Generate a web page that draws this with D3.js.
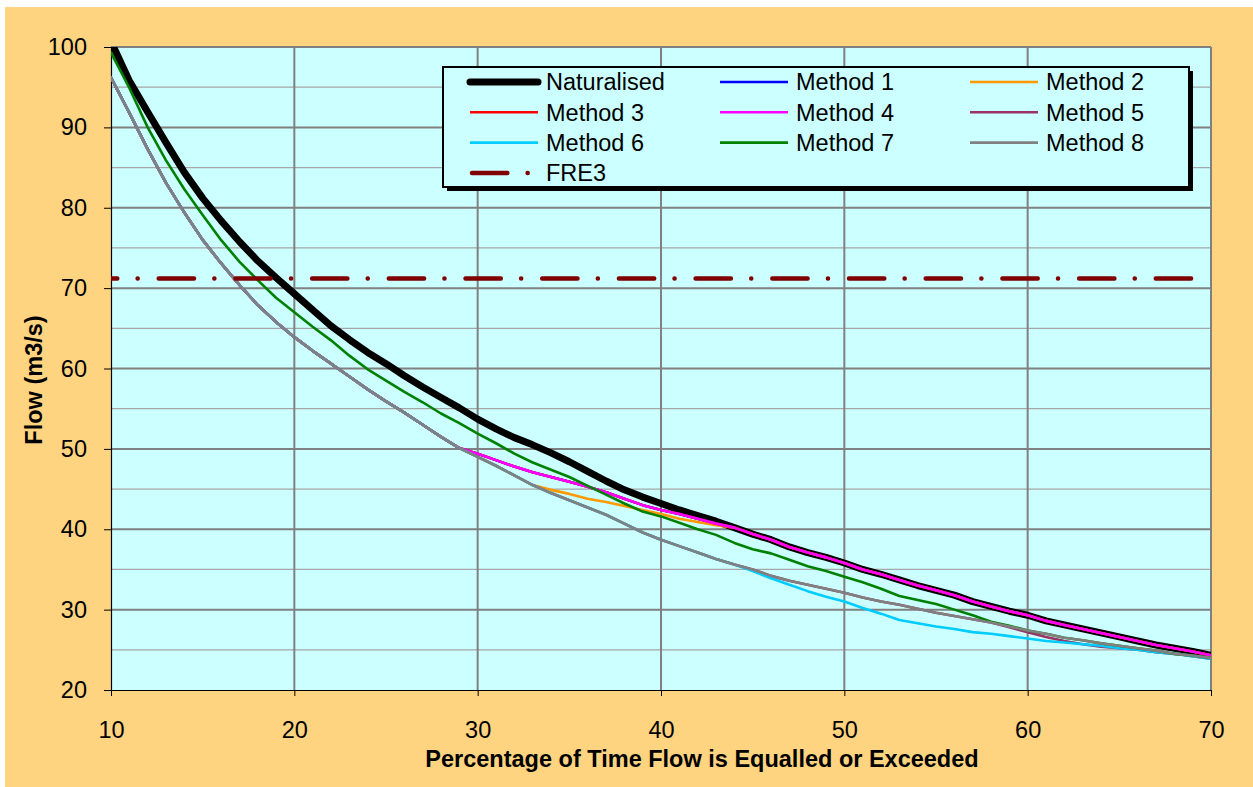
<html>
<script src="https://d3js.org/d3.v7.min.js"></script>
<head>
<style>
  body { margin: 0; background: #ffffff; }
  text { font-family: "Liberation Sans", Arial, sans-serif; fill: #000; }
</style>
</head>
<body>
<svg width="1253" height="787"></svg>
<script>
// percentage of time flow is equalled or exceeded
const pct = [10, 11, 12, 13, 14, 15, 16, 17, 18, 19,
             20, 21, 22, 23, 24, 25, 26, 27, 28, 29,
             30, 31, 32, 33, 34, 35, 36, 37, 38, 39,
             40, 41, 42, 43, 44, 45, 46, 47, 48, 49,
             50, 51, 52, 53, 54, 55, 56, 57, 58, 59,
             60, 61, 62, 63, 64, 65, 66, 67, 68, 69,
             70];

const naturalised = [100.7, 95.8, 91.9, 88.1, 84.4, 81.2, 78.4, 75.8, 73.4, 71.3,
                     69.3, 67.3, 65.3, 63.6, 62.0, 60.6, 59.1, 57.7, 56.4, 55.1,
                     53.7, 52.5, 51.4, 50.5, 49.5, 48.4, 47.2, 46.0, 44.9, 44.0,
                     43.2, 42.4, 41.7, 41.0, 40.2, 39.4, 38.7, 37.8, 37.1, 36.5,
                     35.8, 35.0, 34.4, 33.7, 33.0, 32.4, 31.8, 31.0, 30.4, 29.8,
                     29.3, 28.6, 28.1, 27.6, 27.1, 26.6, 26.1, 25.6, 25.2, 24.8,
                     24.3];

const method1 = [96.2, 91.8, 87.3, 83.1, 79.4, 76.0, 73.1, 70.4, 67.9, 65.8,
                 63.9, 62.2, 60.6, 59.0, 57.4, 55.9, 54.5, 53.0, 51.5, 50.1,
                 49.4, 48.6, 47.8, 47.1, 46.5, 45.9, 45.3, 44.6, 43.8, 43.0,
                 42.4, 41.9, 41.3, 40.7, 40.2, 39.4, 38.7, 37.8, 37.1, 36.5,
                 35.8, 35.0, 34.4, 33.7, 33.0, 32.4, 31.8, 31.0, 30.4, 29.8,
                 29.3, 28.6, 28.1, 27.6, 27.1, 26.6, 26.1, 25.6, 25.2, 24.8,
                 24.3];

const method2 = [96.2, 91.8, 87.3, 83.1, 79.4, 76.0, 73.1, 70.4, 67.9, 65.8,
                 63.9, 62.2, 60.6, 59.0, 57.4, 55.9, 54.5, 53.0, 51.5, 50.1,
                 49.0, 47.9, 46.7, 45.5, 44.9, 44.4, 43.8, 43.4, 42.9, 42.4,
                 41.9, 41.3, 40.9, 40.5, 40.2, 39.4, 38.7, 37.8, 37.1, 36.5,
                 35.8, 35.0, 34.4, 33.7, 33.0, 32.4, 31.8, 31.0, 30.4, 29.8,
                 29.3, 28.6, 28.1, 27.6, 27.1, 26.6, 26.1, 25.6, 25.2, 24.8,
                 24.3];

const method3 = [96.2, 91.8, 87.3, 83.1, 79.4, 76.0, 73.1, 70.4, 67.9, 65.8,
                 63.9, 62.2, 60.6, 59.0, 57.4, 55.9, 54.5, 53.0, 51.5, 50.1,
                 49.4, 48.6, 47.8, 47.1, 46.5, 45.9, 45.3, 44.6, 43.8, 43.0,
                 42.4, 41.9, 41.3, 40.7, 40.2, 39.4, 38.7, 37.8, 37.1, 36.5,
                 35.8, 35.0, 34.4, 33.7, 33.0, 32.4, 31.8, 31.0, 30.4, 29.8,
                 29.3, 28.6, 28.1, 27.6, 27.1, 26.6, 26.1, 25.6, 25.2, 24.8,
                 24.3];

const method4 = [96.2, 91.8, 87.3, 83.1, 79.4, 76.0, 73.1, 70.4, 67.9, 65.8,
                 63.9, 62.2, 60.6, 59.0, 57.4, 55.9, 54.5, 53.0, 51.5, 50.1,
                 49.4, 48.6, 47.8, 47.1, 46.5, 45.9, 45.3, 44.6, 43.8, 43.0,
                 42.4, 41.9, 41.3, 40.7, 40.2, 39.4, 38.7, 37.8, 37.1, 36.5,
                 35.8, 35.0, 34.4, 33.7, 33.0, 32.4, 31.8, 31.0, 30.4, 29.8,
                 29.3, 28.6, 28.1, 27.6, 27.1, 26.6, 26.1, 25.6, 25.2, 24.8,
                 24.3];

const method5 = [96.2, 91.8, 87.3, 83.1, 79.4, 76.0, 73.1, 70.4, 67.9, 65.8,
                 63.9, 62.2, 60.6, 59.0, 57.4, 55.9, 54.5, 53.0, 51.5, 50.1,
                 49.0, 47.9, 46.7, 45.5, 44.5, 43.6, 42.7, 41.8, 40.7, 39.6,
                 38.7, 37.9, 37.1, 36.3, 35.6, 35.0, 34.2, 33.6, 33.1, 32.6,
                 32.1, 31.5, 31.0, 30.6, 30.1, 29.6, 29.2, 28.8, 28.4, 27.8,
                 27.2, 26.6, 26.1, 25.7, 25.4, 25.2, 25.0, 24.7, 24.5, 24.2,
                 23.9];

const method6 = [96.2, 91.8, 87.3, 83.1, 79.4, 76.0, 73.1, 70.4, 67.9, 65.8,
                 63.9, 62.2, 60.6, 59.0, 57.4, 55.9, 54.5, 53.0, 51.5, 50.1,
                 49.0, 47.9, 46.7, 45.5, 44.5, 43.6, 42.7, 41.8, 40.7, 39.6,
                 38.7, 37.9, 37.1, 36.3, 35.6, 34.8, 33.9, 33.1, 32.3, 31.6,
                 31.0, 30.2, 29.5, 28.7, 28.3, 27.9, 27.6, 27.2, 27.0, 26.7,
                 26.4, 26.1, 25.9, 25.7, 25.5, 25.2, 25.0, 24.7, 24.5, 24.2,
                 23.9];

const method7 = [99.3, 94.9, 90.0, 85.9, 82.3, 79.1, 76.0, 73.3, 71.0, 68.8,
                 67.0, 65.2, 63.5, 61.6, 59.9, 58.5, 57.1, 55.8, 54.4, 53.2,
                 51.9, 50.7, 49.4, 48.3, 47.4, 46.5, 45.4, 44.3, 43.2, 42.2,
                 41.6, 40.8, 40.0, 39.3, 38.3, 37.5, 37.0, 36.2, 35.4, 34.8,
                 34.1, 33.4, 32.6, 31.7, 31.2, 30.7, 30.0, 29.3, 28.5, 28.0,
                 27.4, 27.0, 26.5, 26.2, 25.8, 25.5, 25.2, 24.9, 24.5, 24.3,
                 24.0];

const method8 = [96.2, 91.8, 87.3, 83.1, 79.4, 76.0, 73.1, 70.4, 67.9, 65.8,
                 63.9, 62.2, 60.6, 59.0, 57.4, 55.9, 54.5, 53.0, 51.5, 50.1,
                 49.0, 47.9, 46.7, 45.5, 44.5, 43.6, 42.7, 41.8, 40.7, 39.6,
                 38.7, 37.9, 37.1, 36.3, 35.6, 35.0, 34.2, 33.6, 33.1, 32.6,
                 32.1, 31.5, 31.0, 30.6, 30.1, 29.6, 29.2, 28.8, 28.4, 27.9,
                 27.4, 27.0, 26.5, 26.2, 25.8, 25.5, 25.2, 24.9, 24.5, 24.3,
                 24.0];

const fre3 = 71.2;

const seriesNames = ["Naturalised", "Method 1", "Method 2", "Method 3", "Method 4",
                     "Method 5", "Method 6", "Method 7", "Method 8", "FRE3"];
const seriesColors = ["#000000", "#0000FF", "#FF9900", "#FF0000", "#FF00FF",
                      "#993366", "#00CCFF", "#008000", "#808080", "#800000"];

const xTicks = [10, 20, 30, 40, 50, 60, 70];
const yTicks = [20, 30, 40, 50, 60, 70, 80, 90, 100];
const yMinor = [25, 35, 45, 55, 65, 75, 85, 95];

const svg = d3.select("svg");

const plotLeft = 111, plotRight = 1211, plotTop = 47, plotBottom = 690;

const xs = d3.scaleLinear().domain([10, 70]).range([plotLeft, plotRight]);
const ys = d3.scaleLinear().domain([20, 100]).range([plotBottom, plotTop]);

// chart area
svg.append("rect")
    .attr("x", 5).attr("y", 7)
    .attr("width", 1248).attr("height", 780)
    .style("fill", "#FFD480");

// plot area
svg.append("rect")
    .attr("x", plotLeft).attr("y", plotTop)
    .attr("width", plotRight - plotLeft).attr("height", plotBottom - plotTop)
    .style("fill", "#CCFFFF");

// gridlines
svg.append("g").selectAll("line")
    .data(yMinor).enter().append("line")
    .attr("x1", plotLeft).attr("x2", plotRight)
    .attr("y1", d => ys(d)).attr("y2", d => ys(d))
    .style("stroke", "#A6A6A6").style("stroke-width", 1.3);

svg.append("g").selectAll("line")
    .data(yTicks.slice(1)).enter().append("line")
    .attr("x1", plotLeft).attr("x2", plotRight)
    .attr("y1", d => ys(d)).attr("y2", d => ys(d))
    .style("stroke", "#808080").style("stroke-width", 2);

svg.append("g").selectAll("line")
    .data(xTicks.slice(1)).enter().append("line")
    .attr("x1", d => xs(d)).attr("x2", d => xs(d))
    .attr("y1", plotTop).attr("y2", plotBottom)
    .style("stroke", "#808080").style("stroke-width", 2);

// axes
const yAxis = svg.append("g")
    .attr("transform", "translate(" + plotLeft + ",0)")
    .call(d3.axisLeft(ys).tickValues(yTicks).tickSize(7).tickSizeOuter(0).tickPadding(17));

const xAxis = svg.append("g")
    .attr("transform", "translate(0," + plotBottom + ")")
    .call(d3.axisBottom(xs).tickValues(xTicks).tickSize(6).tickSizeOuter(0).tickPadding(25));

[yAxis, xAxis].forEach(function(ax) {
    ax.select(".domain").style("stroke", "#000").style("stroke-width", 1.2);
    ax.selectAll(".tick line").style("stroke", "#000");
    ax.selectAll("text")
        .style("font-family", "'Liberation Sans', Arial, sans-serif")
        .style("font-size", "23.5px")
        .style("fill", "#000");
});

// series
svg.append("defs").append("clipPath")
    .attr("id", "clip")
    .append("rect")
    .attr("x", plotLeft).attr("y", plotTop)
    .attr("width", plotRight - plotLeft).attr("height", plotBottom - plotTop);

const curves = [naturalised, method1, method2, method3, method4,
                method5, method6, method7, method8];

const line = d3.line()
    .x((d, i) => xs(pct[i]))
    .y(d => ys(d));

const lines = svg.append("g").attr("clip-path", "url(#clip)");

curves.forEach(function(values, k) {
    lines.append("path")
        .datum(values)
        .attr("d", line)
        .style("fill", "none")
        .style("stroke", seriesColors[k])
        .style("stroke-width", k == 0 ? 7 : 2.6)
        .style("stroke-linejoin", "round")
        .style("stroke-linecap", "round");
});

// FRE3 threshold
const fre3Line = d3.line().x(d => xs(d)).y(ys(fre3));
lines.append("path")
    .datum([pct[0], pct[pct.length - 1]])
    .attr("d", fre3Line)
    .style("fill", "none")
    .style("stroke", seriesColors[9])
    .style("stroke-width", 4.5)
    .style("stroke-linecap", "round")
    .style("stroke-dasharray", "35.3,20.3,0.1,21")
    .style("stroke-dashoffset", 29);

// legend
const lg = svg.append("g");
lg.append("rect")
    .attr("x", 447).attr("y", 71)
    .attr("width", 746).attr("height", 120)
    .style("fill", "#000");
lg.append("rect")
    .attr("x", 443).attr("y", 67)
    .attr("width", 746).attr("height", 120)
    .style("fill", "#CCFFFF")
    .style("stroke", "#000")
    .style("stroke-width", 2);

seriesNames.forEach(function(name, k) {
    const col = k % 3, row = Math.floor(k / 3);
    const lx = 470 + col * 250;
    const ly = 82 + row * 30.3;
    const item = lg.append("g");
    const sample = item.append("line")
        .attr("x1", lx).attr("x2", lx + 68)
        .attr("y1", ly).attr("y2", ly)
        .style("stroke", seriesColors[k])
        .style("stroke-width", k == 0 ? 7 : (k == 9 ? 4.5 : 2.6))
        .style("stroke-linecap", (k == 0 || k == 9) ? "round" : "butt");
    if (k == 9) {
        sample.attr("x1", lx + 2).style("stroke-dasharray", "35.3,20.3,0.1,21");
    }
    item.append("text")
        .attr("x", lx + 76).attr("y", ly)
        .attr("dy", "0.36em")
        .style("font-size", "23.5px")
        .text(name);
});

// axis titles
svg.append("text")
    .attr("x", 702).attr("y", 767)
    .attr("text-anchor", "middle")
    .style("font-size", "23.5px")
    .style("font-weight", "bold")
    .text("Percentage of Time Flow is Equalled or Exceeded");

svg.append("text")
    .attr("transform", "translate(42,380) rotate(-90)")
    .attr("text-anchor", "middle")
    .style("font-size", "23.5px")
    .style("font-weight", "bold")
    .text("Flow (m3/s)");
</script>
</body>
</html>
